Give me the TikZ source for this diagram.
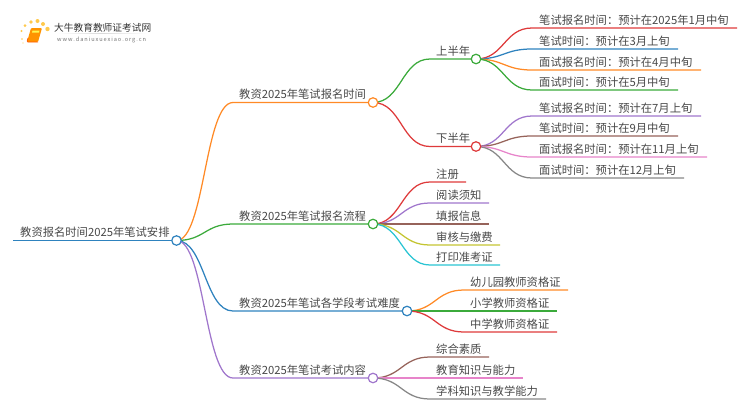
\documentclass[tikz,border=0pt]{standalone}
\usepackage{fontspec}
\usetikzlibrary{calc}
\setmainfont{Noto Sans CJK SC}
\definecolor{cOrange}{HTML}{FF8A26}
\definecolor{cGreen}{HTML}{3BAA3B}
\definecolor{cBlue}{HTML}{2E82BE}
\definecolor{cPurple}{HTML}{A076CC}
\definecolor{cRed}{HTML}{DE3A3B}
\definecolor{cBrown}{HTML}{96635A}
\definecolor{cPink}{HTML}{E784CA}
\definecolor{cGray}{HTML}{878787}
\definecolor{cOlive}{HTML}{C4C532}
\definecolor{cCyan}{HTML}{2AC4D3}
\definecolor{cText}{HTML}{484848}
\tikzset{
  label text/.style={anchor=base west,inner sep=0pt,text=cText,font=\fontsize{11.3}{13}\selectfont},
  hub/.style={circle,draw=#1,fill=white,line width=1.2pt,minimum size=9.5pt,inner sep=0pt},
  branch/.style={draw=#1,line width=1.25pt}
}
% \branchto{parent}{name}{colour}{line start x}{end x}{y}{text x}{text}
\newcommand{\branchto}[8]{%
  \coordinate (#2s) at (#4,#6);
  \coordinate (#2e) at (#5,#6);
  \coordinate (#2m) at ($(#1)!0.5!(#2s)$);
  \node[label text] (#2) at (#7,#6-3.6) {#8};
  \draw[branch=#3] (#1) .. controls (#2m |- #1) and (#2m |- #2s) .. (#2s) -- (#2e);
}
\begin{document}
\begin{tikzpicture}[x=1pt,y=-1pt]
\useasboundingbox (0,0) rectangle (750,410);
\coordinate (rs) at (13,240.5);
\node[label text] (root) at (20,236.7) {教资报名时间2025年笔试安排};
\coordinate (hR) at (176.5,240.5);
\coordinate (hA) at (373,102.5);
\coordinate (hB) at (373,224);
\coordinate (hC) at (407,311);
\coordinate (hD) at (373,378);
\coordinate (hU) at (476,59);
\coordinate (hL) at (476,146.5);
% first level
\branchto{hA}{up}{cGreen}{430}{476}{59}{436}{上半年}
\branchto{hA}{lo}{cRed}{430}{476}{146.5}{436}{下半年}
\branchto{hU}{u1}{cRed}{532}{737}{28}{539}{笔试报名时间：预计在2025年1月中旬}
\branchto{hU}{u2}{cBlue}{532}{678}{49}{539}{笔试时间：预计在3月上旬}
\branchto{hU}{u3}{cOrange}{532}{701}{70}{539}{面试报名时间：预计在4月中旬}
\branchto{hU}{u4}{cGreen}{532}{678}{90}{539}{面试时间：预计在5月中旬}
\branchto{hL}{l1}{cPurple}{532}{701}{116}{539}{笔试报名时间：预计在7月上旬}
\branchto{hL}{l2}{cBrown}{532}{678}{136}{539}{笔试时间：预计在9月中旬}
\branchto{hL}{l3}{cPink}{532}{707}{157}{539}{面试报名时间：预计在11月上旬}
\branchto{hL}{l4}{cGray}{532}{684}{178}{539}{面试时间：预计在12月上旬}
\branchto{hB}{b1}{cRed}{430}{466}{182}{436}{注册}
\branchto{hB}{b2}{cPurple}{430}{489}{203}{436}{阅读须知}
\branchto{hB}{b3}{cBrown}{430}{489}{224}{436}{填报信息}
\branchto{hB}{b4}{cOlive}{430}{500}{245}{436}{审核与缴费}
\branchto{hB}{b5}{cCyan}{430}{500}{265}{436}{打印准考证}
\branchto{hC}{c1}{cOrange}{464}{568}{290}{470}{幼儿园教师资格证}
\branchto{hC}{c2}{cGreen}{464}{557}{311}{470}{小学教师资格证}
\branchto{hC}{c3}{cRed}{464}{557}{332}{470}{中学教师资格证}
\branchto{hD}{d1}{cBrown}{430}{489}{357}{436}{综合素质}
\branchto{hD}{d2}{cPink}{430}{523}{378}{436}{教育知识与能力}
\branchto{hD}{d3}{cGray}{430}{546}{399}{436}{学科知识与教学能力}
\branchto{hR}{a}{cOrange}{233}{373}{102.5}{239}{教资2025年笔试报名时间}
\branchto{hR}{be}{cGreen}{233}{373}{224}{239}{教资2025年笔试报名流程}
\branchto{hR}{ce}{cBlue}{233}{407}{311}{239}{教资2025年笔试各学段考试难度}
\branchto{hR}{de}{cPurple}{233}{373}{378}{239}{教资2025年笔试考试内容}
\draw[branch=cBlue,line width=1.5pt] (rs) -- (hR);
% hubs
\node[hub=cBlue] (nR) at (hR) {};
\node[hub=cOrange] (nA) at (hA) {};
\node[hub=cGreen] (nB) at (hB) {};
\node[hub=cBlue] (nC) at (hC) {};
\node[hub=cPurple] (nD) at (hD) {};
\node[hub=cGreen] (nU) at (hU) {};
\node[hub=cRed] (nL) at (hL) {};
% logo
\foreach \px/\py/\r in {22/39/0.9, 21.5/31/1.2, 25/25.5/1.5, 31/22/1.8, 37.5/21/2, 43/24/2, 47.5/29/2.2, 23/43/0.6}
  \fill[fill=orange!60!yellow,opacity=.7] (\px,\py) circle[radius=\r pt];
\fill[fill=orange!85!yellow,rounded corners=1pt] (31,28) -- (42,28) -- (38,42) -- (27,42) -- cycle;
\draw[draw=orange!70!red,line width=.8pt,rounded corners=1pt] (28,38) -- (27,42) -- (38,42);
\fill[fill=yellow!70!white] (32.5,30.5) -- (39.5,30.5) -- (39,32.5) -- (32,32.5) -- cycle;
\node[anchor=base west,inner sep=0pt,text=black!80,font=\fontsize{9.7}{11}\selectfont] (logoA) at (54,31) {大牛教育教师证考试网};
\fill[left color=white,right color=white,middle color=black!15] (57,33) rectangle (147,33.8);
\node[anchor=base west,inner sep=0pt,text=black!55,font=\fontsize{5.6}{7}\selectfont] (logoB) at (57,41.5) {w\,w\,w\,.\,d\,a\,n\,i\,u\,x\,u\,e\,x\,i\,a\,o\,.\,o\,r\,g\,.\,c\,n};
\end{tikzpicture}
\end{document}
